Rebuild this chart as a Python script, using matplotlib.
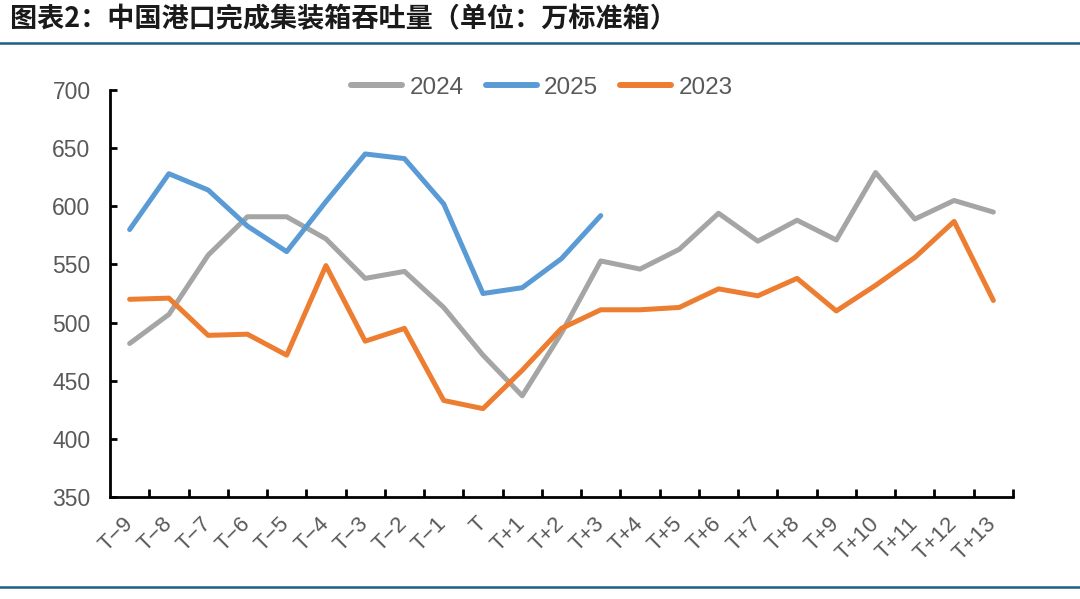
import matplotlib
matplotlib.use("Agg")
import matplotlib.pyplot as plt
from matplotlib.lines import Line2D

categories = ["T−9", "T−8", "T−7", "T−6", "T−5", "T−4", "T−3", "T−2", "T−1", "T",
              "T+1", "T+2", "T+3", "T+4", "T+5", "T+6", "T+7", "T+8", "T+9", "T+10",
              "T+11", "T+12", "T+13"]
s2024 = [482, 507, 558, 591, 591, 572, 538, 544, 513, 472,
         437, 491, 553, 546, 563, 594, 570, 588, 571, 629,
         589, 605, 595]
s2025 = [580, 628, 614, 583, 561, 604, 645, 641, 602, 525,
         530, 555, 592]
s2023 = [520, 521, 489, 490, 472, 549, 484, 495, 433, 426,
         459, 495, 511, 511, 513, 529, 523, 538, 510, 532,
         556, 587, 519]
yticks = [350, 400, 450, 500, 550, 600, 650, 700]
title = "图表2：中国港口完成集装箱吞吐量（单位：万标准箱）"

c2024, c2025, c2023 = "#A5A5A5", "#5B9BD5", "#ED7D31"
txt = "#595959"

fig = plt.figure(figsize=(10.8, 5.99), dpi=100)
ax = fig.add_axes([110/1080, 1-497/599, (1013-110)/1080, (497-90)/599])

x = list(range(len(categories)))
lw = 3.6
ax.plot(x, s2024, color=c2024, lw=lw, solid_capstyle="round", solid_joinstyle="round", zorder=3)
ax.plot(x[:len(s2025)], s2025, color=c2025, lw=lw, solid_capstyle="round", solid_joinstyle="round", zorder=4)
ax.plot(x, s2023, color=c2023, lw=lw, solid_capstyle="round", solid_joinstyle="round", zorder=5)

ax.set_xlim(-0.5, len(categories) - 0.5)
ax.set_ylim(350, 700)
ax.set_yticks(yticks)
ax.set_yticklabels([str(v) for v in yticks], fontsize=16.5, color=txt, family="Liberation Sans")
ax.tick_params(axis="y", direction="in", length=5, width=2, pad=14, colors="black", labelcolor=txt)

ax.set_xticks(x)
ax.set_xticklabels(categories, rotation=45, ha="right", va="center", rotation_mode="anchor",
                   fontsize=16, color=txt, family=["Liberation Sans", "DejaVu Sans"])
ax.tick_params(axis="x", which="major", length=0, pad=17)
ax.set_xticks([i + 0.5 for i in x], minor=True)
ax.tick_params(axis="x", which="minor", direction="in", length=6, width=2, colors="black")

for side in ["top", "right"]:
    ax.spines[side].set_visible(False)
for side in ["left", "bottom"]:
    ax.spines[side].set_linewidth(2)
    ax.spines[side].set_color("black")

handles = [Line2D([], [], color=c2024, lw=4.3, solid_capstyle="round"),
           Line2D([], [], color=c2025, lw=4.3, solid_capstyle="round"),
           Line2D([], [], color=c2023, lw=4.3, solid_capstyle="round")]
leg = fig.legend(handles, ["2024", "2025", "2023"], loc="center", bbox_to_anchor=(542/1080, 1-88/599),
                 ncol=3, frameon=False, handlelength=2.1, handletextpad=0.3,
                 columnspacing=0.9, prop={"family": "Liberation Sans", "size": 17.5})
for t in leg.get_texts():
    t.set_color(txt)

fig.text(10/1080, 1-19/599, title, fontsize=19.5, fontweight="bold", color="#1a1a1a",
         family=["Noto Sans CJK SC", "DejaVu Sans"], va="center", ha="left")

fig.add_artist(Line2D([0, 1], [1-43/599, 1-43/599], color="#1F5F85", lw=1.8, transform=fig.transFigure))
fig.add_artist(Line2D([0, 1], [1-587/599, 1-587/599], color="#1F5F85", lw=1.8, transform=fig.transFigure))

fig.savefig("out.png", dpi=100)
